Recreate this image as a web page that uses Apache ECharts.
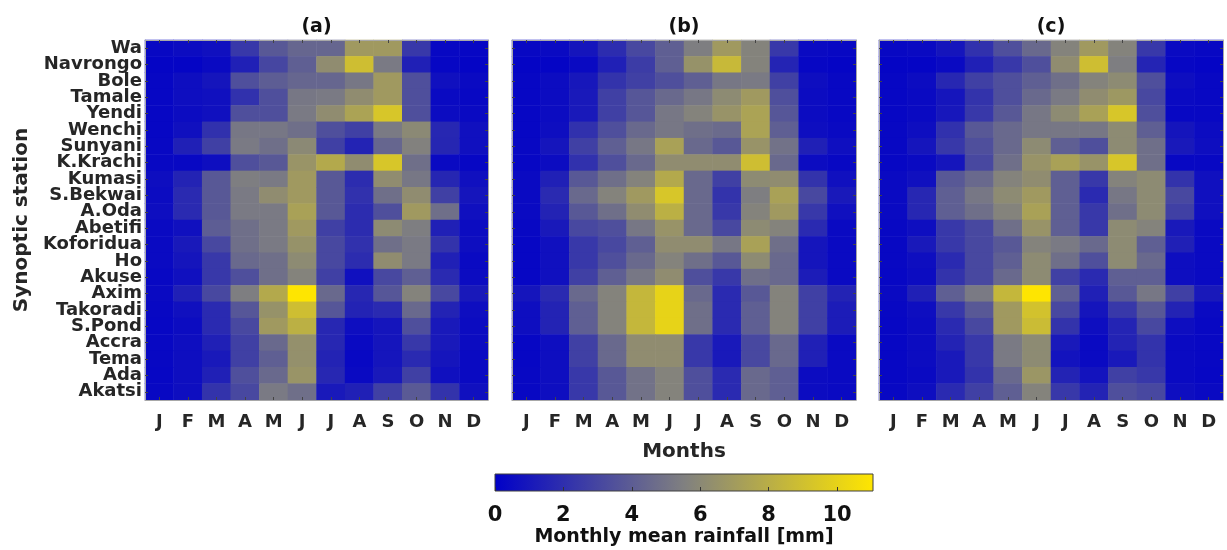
<!DOCTYPE html>
<html><head><meta charset="utf-8">
<script src="https://cdn.jsdelivr.net/npm/echarts@6/dist/echarts.min.js"></script>
<style>html,body{margin:0;padding:0;background:#fff}#c{width:1227px;height:550px}</style>
</head><body><div id="c"></div>
<script>
const months = ['Jan','Feb','Mar','Apr','May','Jun','Jul','Aug','Sep','Oct','Nov','Dec'];
const stations = ['Wa','Navrongo','Bole','Tamale','Yendi','Wenchi','Sunyani','K.Krachi','Kumasi','S.Bekwai','A.Oda','Abetifi','Koforidua','Ho','Akuse','Axim','Takoradi','S.Pond','Accra','Tema','Ada','Akatsi'];
const panelTitles = ['(a)','(b)','(c)'];
const cbMin = 0, cbMax = 11.05, cbStep = 2;

const rainA = [
[0.35,0.5,0.7,2.4,3.8,4.4,4.4,6.9,6.9,2.4,0.35,0.3],
[0.2,0.2,0.45,1.4,3.0,4.1,6.2,8.9,5.25,1.4,0.3,0.2],
[0.3,0.6,0.9,3.4,4.0,4.4,4.4,5.15,6.9,3.4,0.7,0.45],
[0.3,0.6,0.7,2.1,3.4,5.15,5.25,6.2,6.9,3.4,0.45,0.35],
[0.3,0.5,0.7,3.4,3.4,5.25,6.2,7.4,9.3,3.4,0.5,0.45],
[0.3,0.7,2.1,5.15,5.15,4.8,3.4,2.75,5.25,6.0,1.7,0.7],
[0.35,1.4,2.75,5.25,4.8,6.0,2.75,1.5,4.4,5.6,1.65,0.7],
[0.35,0.35,0.6,3.4,3.8,6.6,7.75,6.2,9.3,4.8,0.45,0.3],
[0.6,1.5,3.8,5.45,5.25,6.9,3.8,1.9,6.2,5.15,1.65,0.7],
[0.5,1.8,3.8,5.25,6.2,6.9,3.8,2.1,4.8,6.2,2.75,0.9],
[0.6,1.8,3.8,5.25,5.25,7.3,3.8,1.9,3.4,6.9,4.8,0.7],
[0.45,0.7,4.0,4.8,5.25,6.9,2.75,1.9,6.1,5.45,1.4,0.5],
[0.45,1.1,3.1,4.8,5.25,6.5,3.1,2.1,4.8,5.25,2.2,0.6],
[0.45,0.9,2.4,4.55,4.8,6.1,3.1,1.9,6.2,5.25,1.4,0.45],
[0.35,0.7,2.4,3.4,4.8,5.7,2.75,0.7,3.1,4.1,1.8,0.5],
[0.45,1.4,3.1,5.45,7.75,11,4.55,1.7,3.7,5.7,3.1,1.1],
[0.35,0.7,1.8,3.7,6.5,8.9,3.7,1.5,1.8,4.55,1.5,0.6],
[0.3,0.5,1.8,3.1,6.9,8.1,1.7,0.6,0.9,3.4,1.1,0.5],
[0.35,0.6,1.4,2.75,4.55,6.4,1.7,0.45,0.9,2.4,1.1,0.5],
[0.35,0.6,1.1,2.75,4.1,6.4,1.5,0.35,0.9,1.8,0.9,0.45],
[0.3,0.6,1.4,3.4,4.55,6.6,1.7,0.45,1.1,2.75,0.7,0.45],
[0.35,0.6,2.2,3.1,5.25,4.8,1.1,1.4,2.75,3.9,2.2,0.7]
];
const rainB = [
[0.35,0.45,0.9,1.9,3.1,4.1,5.45,6.9,5.7,2.4,0.45,0.35],
[0.2,0.2,0.45,1.4,2.6,4.1,6.5,8.6,5.7,1.55,0.3,0.2],
[0.3,0.5,1.0,2.2,2.75,3.4,4.1,5.15,5.25,2.75,0.6,0.35],
[0.3,0.5,1.1,2.75,3.7,4.55,5.15,6.1,6.9,3.4,0.5,0.35],
[0.3,0.5,1.1,2.75,3.7,5.15,5.7,6.55,7.4,3.7,0.5,0.35],
[0.3,0.6,2.1,3.4,4.55,5.15,4.8,4.6,7.4,4.1,0.6,0.45],
[0.35,0.9,2.75,4.1,5.15,7.3,4.55,3.8,6.55,4.9,1.4,0.65],
[0.3,0.5,2.1,3.4,4.55,6.2,6.2,6.2,8.9,4.55,0.5,0.35],
[0.45,1.4,3.8,4.8,5.7,7.75,4.55,2.75,6.1,6.2,2.2,0.7],
[0.45,1.8,4.55,5.7,6.9,9.3,4.55,2.2,5.45,7.3,3.1,1.1],
[0.45,1.5,3.8,4.8,6.2,8.1,4.55,2.4,5.7,6.9,2.4,0.7],
[0.35,1.1,3.1,3.4,5.15,6.55,4.55,3.1,6.1,5.7,1.8,0.45],
[0.3,0.7,2.4,3.1,4.1,6.2,6.2,5.15,7.3,4.8,0.9,0.45],
[0.3,0.7,2.4,3.4,4.55,5.7,4.8,3.8,6.1,4.55,0.9,0.45],
[0.3,0.7,2.75,4.1,5.15,6.2,3.4,2.4,4.8,4.55,1.2,0.45],
[0.9,1.8,4.55,5.7,8.5,10.0,4.55,1.8,3.8,5.7,2.75,1.5],
[0.6,1.5,4.1,5.7,8.5,10.0,4.8,1.8,4.1,5.7,2.75,1.2],
[0.6,1.5,4.1,5.7,8.5,10.0,4.8,1.8,4.1,5.7,2.75,1.2],
[0.3,0.6,2.75,4.55,6.2,6.2,2.4,1.1,3.1,4.55,1.4,0.45],
[0.3,0.6,2.75,4.55,6.2,6.2,2.4,1.1,3.1,4.55,1.4,0.45],
[0.35,0.6,2.4,3.8,4.9,5.7,3.4,1.8,4.55,4.1,0.5,0.45],
[0.35,0.6,2.4,3.8,4.9,5.7,3.4,1.8,4.55,4.1,0.5,0.45]
];
const rainC = [
[0.35,0.45,0.9,2.1,3.4,4.55,5.7,6.9,5.7,2.4,0.45,0.35],
[0.2,0.2,0.45,1.4,2.4,3.4,6.2,8.9,5.45,1.55,0.3,0.2],
[0.3,0.5,1.7,2.75,3.4,4.1,4.8,5.7,6.1,3.4,0.6,0.35],
[0.3,0.45,0.9,2.2,3.4,4.55,5.25,6.2,6.8,3.1,0.45,0.35],
[0.3,0.45,1.0,2.4,3.8,5.15,6.1,7.3,9.3,3.4,0.35,0.35],
[0.35,0.6,2.1,3.8,4.55,5.15,5.15,5.15,6.1,4.1,0.9,0.5],
[0.35,0.9,2.4,3.4,4.55,6.1,4.1,3.4,6.1,4.8,1.1,0.6],
[0.3,0.45,0.9,3.1,4.8,6.55,7.3,6.55,9.3,4.8,0.35,0.35],
[0.45,0.7,3.8,4.55,5.7,6.2,4.1,2.4,5.7,6.1,2.2,0.7],
[0.45,1.7,4.1,5.15,6.1,6.9,4.1,1.8,5.15,6.1,3.1,0.7],
[0.45,1.7,4.1,4.8,5.7,7.3,4.1,2.4,4.8,6.1,2.75,0.7],
[0.35,0.6,2.4,3.1,4.8,6.55,4.1,2.4,6.1,5.7,1.1,0.45],
[0.35,1.1,2.4,3.1,3.8,5.7,5.25,4.55,6.1,4.1,1.4,0.45],
[0.35,0.6,1.8,3.1,4.1,6.1,4.8,3.4,6.1,4.55,0.6,0.45],
[0.3,0.5,2.2,3.1,4.55,6.1,2.75,1.8,4.1,4.1,0.6,0.45],
[0.45,1.4,4.1,5.25,8.5,11,4.1,1.4,3.8,5.15,2.75,1.1],
[0.35,0.6,2.4,3.8,6.9,9.1,3.1,0.9,2.4,3.8,1.5,0.45],
[0.3,0.5,1.8,3.1,6.9,8.75,2.2,0.6,1.55,3.1,0.6,0.35],
[0.3,0.5,1.5,2.4,5.25,6.1,1.1,0.45,1.5,2.2,0.45,0.35],
[0.3,0.5,1.1,2.4,5.25,6.1,0.8,0.45,1.1,2.2,0.45,0.35],
[0.3,0.45,1.1,2.2,4.55,6.7,1.5,0.8,2.75,2.4,0.45,0.3],
[0.35,0.6,1.8,2.75,4.1,5.7,2.4,1.5,3.4,3.1,0.6,0.45]
];
const panels = [rainA, rainB, rainC];

const FONT = '"DejaVu Sans", sans-serif';
const TXT = '#262626';
const palette = ['#0000c8', '#808080', '#ffe600'];
const layout = [{left:145,width:343},{left:512,width:344},{left:879,width:344}];
const TOP = 40, H = 360;

const chart = echarts.init(document.getElementById('c'), null, {renderer:'canvas'});

const grid = layout.map(g => ({left:g.left, width:g.width, top:TOP, height:H, show:false}));
grid.push({left:495, top:474, width:378, height:17, show:true, borderColor:'#404040', borderWidth:1,
  backgroundColor:{type:'linear', x:0, y:0, x2:1, y2:0, colorStops:[
    {offset:0, color:palette[0]}, {offset:0.5, color:palette[1]}, {offset:1, color:palette[2]}]}});

const tick = {show:true, inside:true, alignWithLabel:true, length:3, interval:0, lineStyle:{color:'#444', width:1}};
const line = {show:true, lineStyle:{color:'#a8a8a8', width:1}};
const xAxis = [], yAxis = [], series = [];
layout.forEach((g, k) => {
  xAxis.push({gridIndex:k, type:'category', data:months, position:'bottom', z:5,
    axisLine:line, axisTick:tick, splitLine:{show:false},
    axisLabel:{interval:0, formatter:v => v[0], fontFamily:FONT, fontWeight:'bold', fontSize:18, color:TXT, margin:13}});
  xAxis.push({gridIndex:k, type:'category', data:months, position:'top', z:5,
    axisLine:line, axisTick:tick, axisLabel:{show:false}, splitLine:{show:false}});
  yAxis.push({gridIndex:k, type:'category', data:stations, inverse:true, position:'left', z:5,
    axisLine:line, axisTick:tick, splitLine:{show:false},
    axisLabel: k === 0 ? {interval:0, fontFamily:FONT, fontWeight:'bold', fontSize:18, color:TXT, margin:3} : {show:false}});
  yAxis.push({gridIndex:k, type:'category', data:stations, inverse:true, position:'right', z:5,
    axisLine:line, axisTick:tick, axisLabel:{show:false}, splitLine:{show:false}});
  const data = [];
  panels[k].forEach((row, i) => row.forEach((v, j) => data.push([j, i, v])));
  series.push({type:'heatmap', xAxisIndex:2*k, yAxisIndex:2*k, data:data, progressive:0,
    emphasis:{disabled:true}, itemStyle:{borderWidth:0}});
});
xAxis.push({gridIndex:3, type:'value', min:cbMin, max:cbMax, interval:cbStep, position:'bottom',
  axisLine:{show:false}, splitLine:{show:false},
  axisTick:{show:true, inside:true, length:4, lineStyle:{color:'#333'}},
  axisLabel:{showMaxLabel:false, fontFamily:FONT, fontWeight:'bold', fontSize:21, color:'#111', margin:14},
  name:'Monthly mean rainfall [mm]', nameLocation:'middle', nameGap:37,
  nameTextStyle:{fontFamily:FONT, fontWeight:'bold', fontSize:19, color:'#111'}});
yAxis.push({gridIndex:3, type:'value', show:false, min:0, max:1});

const graphic = [];
layout.forEach((g, k) => graphic.push({type:'text', x:g.left + g.width/2, y:27,
  style:{text:panelTitles[k], align:'center', verticalAlign:'middle', font:'bold 19px ' + FONT, fill:'#111'}}));
graphic.push({type:'text', x:684, y:452, style:{text:'Months', align:'center', verticalAlign:'middle', font:'bold 20px ' + FONT, fill:TXT}});
graphic.push({type:'text', x:22, y:220, rotation:Math.PI/2, style:{text:'Synoptic station', align:'center', verticalAlign:'middle', font:'bold 20px ' + FONT, fill:TXT}});

chart.setOption({
  animation:false,
  backgroundColor:'#fff',
  grid, xAxis, yAxis, series, graphic,
  visualMap:{type:'continuous', show:false, min:cbMin, max:cbMax, seriesIndex:[0,1,2], dimension:2,
    inRange:{color:palette}}
});
</script></body></html>
